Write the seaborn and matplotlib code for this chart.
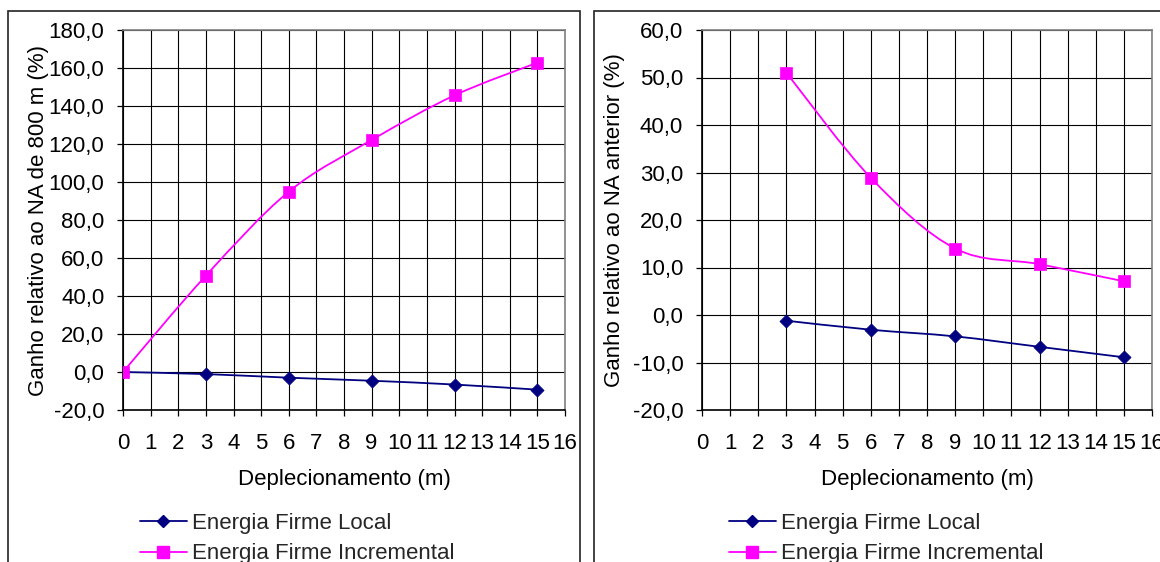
import numpy as np
import pandas as pd
import matplotlib
matplotlib.use("Agg")
import matplotlib.pyplot as plt
import seaborn as sns
from matplotlib.path import Path
from matplotlib.patches import PathPatch, Rectangle
from matplotlib.lines import Line2D
from matplotlib.ticker import FuncFormatter, MultipleLocator

# --- data -------------------------------------------------------------
deplecionamento = [0, 3, 6, 9, 12, 15]
ganho_800_local = [0.0, -1.1, -3.0, -4.6, -6.6, -9.3]
ganho_800_incremental = [0.0, 50.7, 94.9, 122.1, 145.6, 162.8]

deplecionamento_ant = [3, 6, 9, 12, 15]
ganho_ant_local = [-1.2, -3.1, -4.5, -6.7, -8.9]
ganho_ant_incremental = [51.0, 28.9, 14.0, 10.7, 7.1]

serie_local = "Energia Firme Local"
serie_incremental = "Energia Firme Incremental"
xlabel = "Deplecionamento (m)"
ylabel_esq = "Ganho relativo ao NA de 800 m (%)"
ylabel_dir = "Ganho relativo ao NA anterior (%)"

COR_LOCAL = "#000080"
COR_INCR = "#FF00FF"

# --- style --------------------------------------------------------------
sns.set_style("white")
plt.rcParams["font.family"] = ["Liberation Sans", "DejaVu Sans"]
plt.rcParams["font.size"] = 16

W, H = 1160, 562
fig = plt.figure(figsize=(W / 100, H / 100), dpi=100)


def px_axes(x0, y0, x1, y1):
    return fig.add_axes([x0 / W, 1 - y1 / H, (x1 - x0) / W, (y1 - y0) / H])


def smooth_curve(ax, xs, ys, color, lw):
    """Smoothed line through the points (cubic Bezier, Catmull-Rom tangents)."""
    pts = np.column_stack([xs, ys]).astype(float)
    n = len(pts)
    verts = [tuple(pts[0])]
    codes = [Path.MOVETO]
    for i in range(n - 1):
        p0 = pts[i - 1] if i > 0 else pts[i]
        p1, p2 = pts[i], pts[i + 1]
        p3 = pts[i + 2] if i + 2 < n else pts[i + 1]
        c1 = p1 + (p2 - p0) / 6.0
        c2 = p2 - (p3 - p1) / 6.0
        verts += [tuple(c1), tuple(c2), tuple(p2)]
        codes += [Path.CURVE4] * 3
    patch = PathPatch(Path(verts, codes), facecolor="none", edgecolor=color,
                      lw=lw, zorder=3, transform=ax.transData)
    ax.add_patch(patch)


def panel(ax, xs_l, ys_l, xs_i, ys_i, ymin, ymax, ystep, ylabel):
    df_l = pd.DataFrame({"x": xs_l, "y": ys_l})
    df_i = pd.DataFrame({"x": xs_i, "y": ys_i})
    smooth_curve(ax, xs_l, ys_l, COR_LOCAL, 1.3)
    smooth_curve(ax, xs_i, ys_i, COR_INCR, 1.3)
    sns.scatterplot(data=df_l, x="x", y="y", ax=ax, marker="D", s=45,
                    color=COR_LOCAL, edgecolor=COR_LOCAL, linewidth=0.5, zorder=4)
    sns.scatterplot(data=df_i, x="x", y="y", ax=ax, marker="s", s=70,
                    color=COR_INCR, edgecolor=COR_INCR, linewidth=0.5, zorder=4)

    ax.set_xlim(0, 16)
    ax.set_ylim(ymin, ymax)
    ax.xaxis.set_major_locator(MultipleLocator(1))
    ax.yaxis.set_major_locator(MultipleLocator(ystep))
    ax.yaxis.set_major_formatter(FuncFormatter(lambda v, p: f"{v:.1f}".replace(".", ",")))
    ax.grid(True, color="black", lw=0.8, zorder=0)
    ax.set_axisbelow(True)
    for s in ("left", "bottom"):
        ax.spines[s].set_color("black")
        ax.spines[s].set_linewidth(1.2)
    for s in ("top", "right"):
        ax.spines[s].set_color("#808080")
        ax.spines[s].set_linewidth(1.2)
    ax.tick_params(axis="both", direction="out", length=4.5, width=0.9,
                   color="black", labelsize=16, labelcolor="black")
    ax.tick_params(axis="y", pad=9)
    ax.tick_params(axis="x", pad=12)
    ax.tick_params(bottom=True, left=True)
    ax.set_xlabel(xlabel, fontsize=16, color="black")
    ax.set_ylabel(ylabel, fontsize=16, color="black")
    ax.xaxis.set_label_coords(0.5, -0.156)


# outer chart frames (they run past the bottom/right edge)
fig.add_artist(Rectangle((8 / W, -0.2), (580 - 8) / W, 1.2 - 11 / H,
                         transform=fig.transFigure, fill=False,
                         edgecolor="#222222", lw=1.2))
fig.add_artist(Rectangle((594 / W, -0.2), 0.6, 1.2 - 11 / H,
                         transform=fig.transFigure, fill=False,
                         edgecolor="#222222", lw=1.2))

ax1 = px_axes(123, 30, 565, 410)
panel(ax1, deplecionamento, ganho_800_local, deplecionamento, ganho_800_incremental,
      -20, 180, 20, ylabel_esq)
ax1.yaxis.set_label_coords(-0.168, 0.5)

ax2 = px_axes(702, 30, 1152, 410)
panel(ax2, deplecionamento_ant, ganho_ant_local, deplecionamento_ant, ganho_ant_incremental,
      -20, 60, 10, ylabel_dir)
ax2.yaxis.set_label_coords(-0.171, 0.5)

handles = [
    Line2D([], [], color=COR_LOCAL, lw=1.3, marker="D", markersize=6.5),
    Line2D([], [], color=COR_INCR, lw=1.3, marker="s", markersize=8.5),
]
for ax, x0 in ((ax1, 140), (ax2, 729)):
    ax.legend(handles, [serie_local, serie_incremental], loc="upper left",
              bbox_to_anchor=(x0 / W, 1 - 513 / H), bbox_transform=fig.transFigure,
              frameon=False, fontsize=16, handlelength=2.1, handletextpad=0.25,
              labelspacing=0.42, borderpad=0, borderaxespad=0, numpoints=1)

fig.savefig("out.png", dpi=100, facecolor="white")
